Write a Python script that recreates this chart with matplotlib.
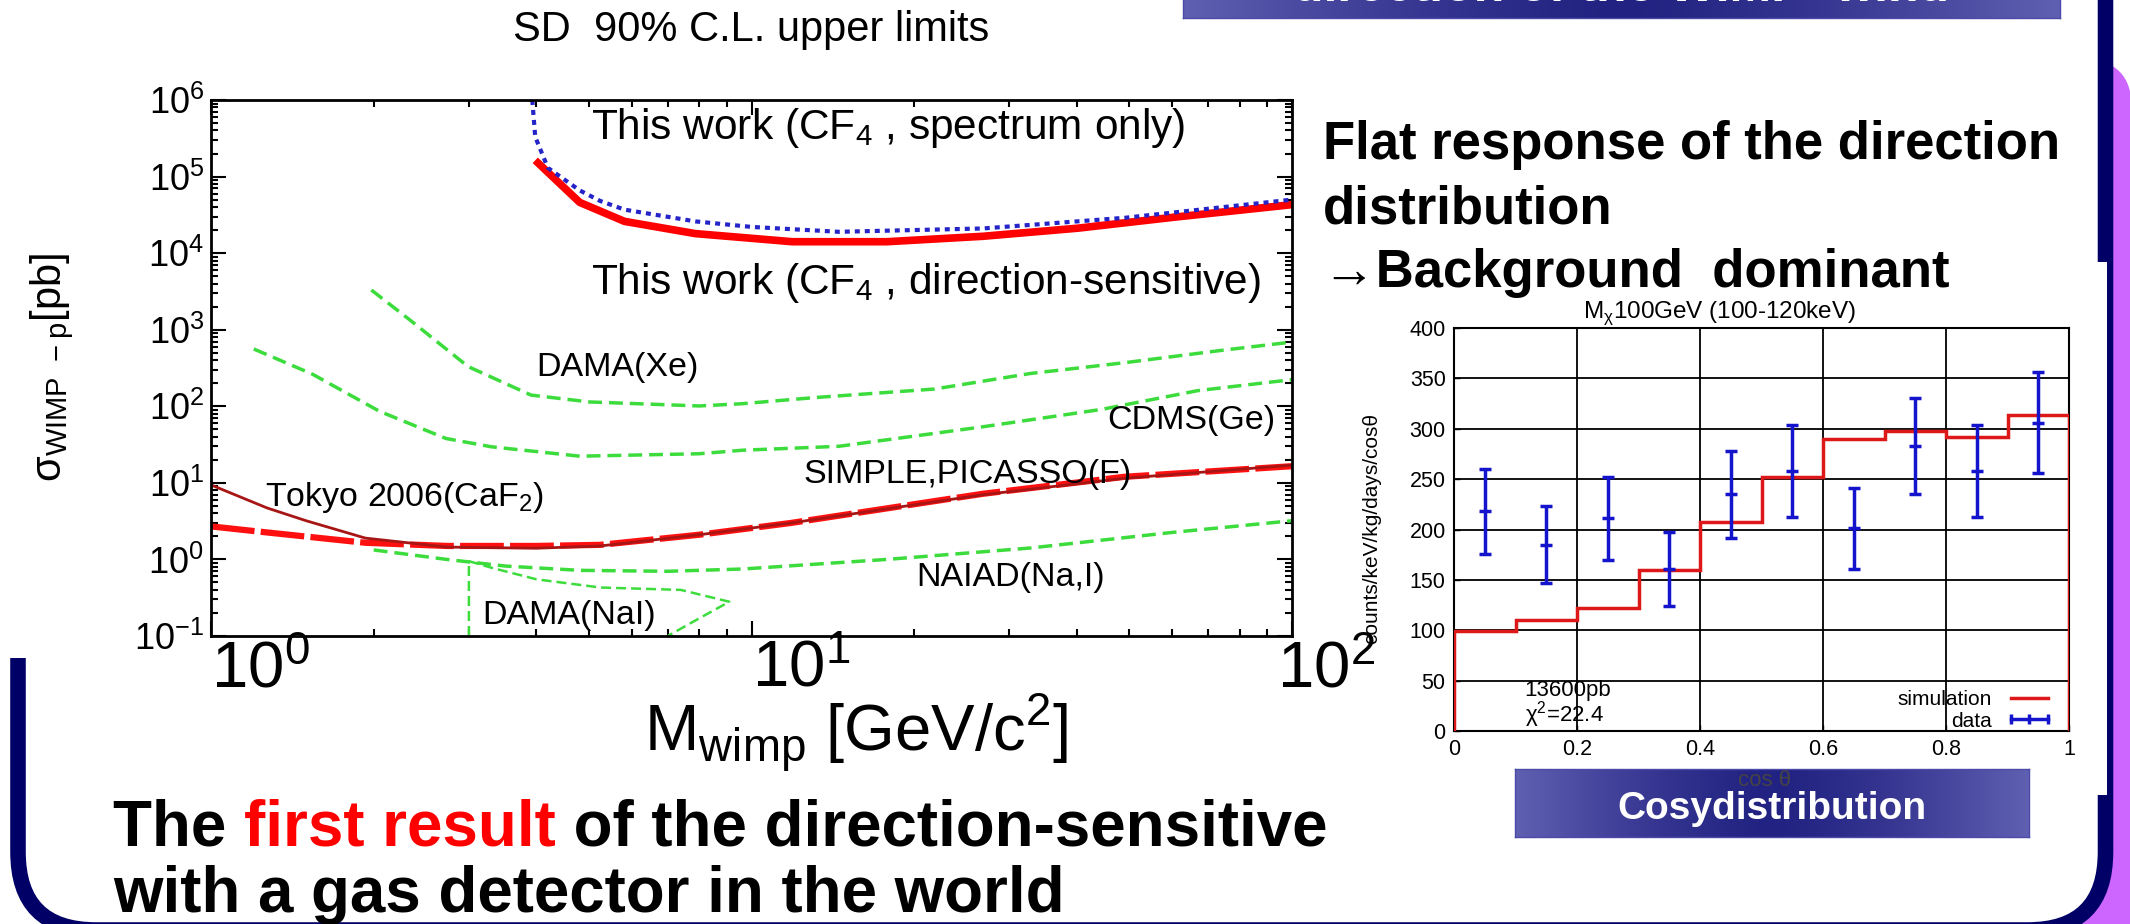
import numpy as np
import matplotlib
matplotlib.use("Agg")
import matplotlib.pyplot as plt
from matplotlib.patches import FancyBboxPatch, Rectangle
from matplotlib.lines import Line2D
from matplotlib.ticker import LogLocator, NullFormatter
from matplotlib.transforms import ScaledTranslation

plt.rcParams["font.family"] = ["Liberation Sans", "DejaVu Sans"]

W, H = 2130, 924

# ---- left plot: SD 90% C.L. upper limits (mass GeV, cross section pb) ----
spec_m = [3.93, 3.98, 4.2, 4.81, 5.25, 5.82, 7.87, 10.0, 14.5, 26.8, 49.2, 100]
spec_s = [1e6, 3.3e5, 1.3e5, 6.6e4, 4.8e4, 3.7e4, 2.6e4, 2.2e4, 1.9e4, 2.1e4, 2.9e4, 5.0e4]

dir_m = [3.98, 4.81, 5.82, 7.87, 11.9, 17.8, 26.8, 40.2, 60.3, 100]
dir_s = [1.63e5, 4.6e4, 2.6e4, 1.8e4, 1.41e4, 1.41e4, 1.66e4, 2.12e4, 2.94e4, 4.3e4]

xe_m = [1.98, 2.34, 2.99, 3.91, 5.01, 8.0, 9.6, 13.1, 21.8, 32.8, 49.2, 74, 100]
xe_s = [3300, 1320, 330, 140, 114, 101, 108, 130, 168, 268, 372, 537, 690]

cdms_m = [1.20, 1.54, 2.05, 2.72, 3.30, 4.81, 8.0, 9.64, 14.5, 26.8, 44.4, 66.9, 100]
cdms_s = [560, 263, 86, 38, 29.6, 22.3, 24, 26.7, 30, 54, 91, 160, 223]

tokyo_m = [1.0, 1.27, 1.5, 1.93, 2.73, 4.0, 5.25, 8.0, 11.85, 26.8, 49.0, 100]
tokyo_s = [9.4, 4.7, 3.2, 1.9, 1.45, 1.4, 1.5, 2.1, 3.0, 7.0, 11.5, 17.0]

simple_m = [1.0, 1.27, 1.93, 2.73, 4.0, 5.25, 8.0, 11.85, 26.8, 49.0, 100]
simple_s = [2.7, 2.25, 1.65, 1.5, 1.5, 1.55, 2.1, 3.0, 7.2, 12.0, 16.5]

naiad_m = [2.0, 2.73, 3.5, 4.81, 7.0, 9.64, 17.8, 32.8, 60.3, 100]
naiad_s = [1.33, 1.0, 0.82, 0.72, 0.70, 0.75, 1.0, 1.41, 2.26, 3.2]

damanai_m = [3.0, 3.0, 3.3, 4.0, 5.25, 7.4, 9.1, 8.0, 7.0]
damanai_s = [0.1, 0.95, 0.78, 0.55, 0.43, 0.40, 0.28, 0.17, 0.1]

y_ticks = [1e-1, 1e0, 1e1, 1e2, 1e3, 1e4, 1e5, 1e6]
y_tick_labels = [r"$\mathregular{10^{-1}}$", r"$\mathregular{10^{0}}$", r"$\mathregular{10^{1}}$",
                 r"$\mathregular{10^{2}}$", r"$\mathregular{10^{3}}$", r"$\mathregular{10^{4}}$",
                 r"$\mathregular{10^{5}}$", r"$\mathregular{10^{6}}$"]
x_ticks = [1, 10, 100]
x_tick_labels = [r"$\mathregular{10^{0}}$", r"$\mathregular{10^{1}}$", r"$\mathregular{10^{2}}$"]

# ---- right inset: cos distribution ----
bin_edges = [0.0, 0.1, 0.2, 0.3, 0.4, 0.5, 0.6, 0.7, 0.8, 0.9, 1.0]
sim_counts = [99, 110, 122, 160, 207, 252, 290, 298, 292, 314]
data_cos = [0.05, 0.15, 0.25, 0.35, 0.45, 0.55, 0.65, 0.75, 0.85, 0.95]
data_counts = [218, 185, 211, 161, 235, 258, 201, 283, 258, 306]
data_err = [42, 38, 41, 37, 43, 46, 40, 48, 46, 50]


def px(x, y):
    return x / W, 1 - y / H


fig = plt.figure(figsize=(W / 100, H / 100), dpi=100)
fig.patch.set_facecolor("white")
inch = fig.dpi_scale_trans

# slide frame: purple shadow, navy rounded border, white image backgrounds
shadow = FancyBboxPatch((19.0, -1.0), 2.32, (924 - 59) / 100 + 1.0, transform=inch,
                        boxstyle="round,pad=0,rounding_size=0.5",
                        facecolor="#cc66ff", edgecolor="none", zorder=-6)
fig.add_artist(shadow)
frame = FancyBboxPatch((0.18, -0.06), 21.055 - 0.18, 13.0, transform=inch,
                       boxstyle="round,pad=0,rounding_size=0.78",
                       facecolor="white", edgecolor="#000066", lw=11.2, zorder=-5)
fig.add_artist(frame)
fig.add_artist(Rectangle((0, (924 - 658) / 100), 13.45, 6.58, transform=inch,
                         facecolor="white", edgecolor="none", zorder=-4))
fig.add_artist(Rectangle((13.6, (924 - 795) / 100), 7.47, 5.33, transform=inch,
                         facecolor="white", edgecolor="none", zorder=-4))


def grad_box(x0, y0, x1, y1):
    bax = fig.add_axes([x0 / W, 1 - y1 / H, (x1 - x0) / W, (y1 - y0) / H])
    t = np.linspace(0, 1, 300)
    w = 1 - np.abs(2 * t - 1) ** 1.4
    edge = np.array([0x60, 0x60, 0xb2]) / 255
    mid = np.array([0x22, 0x22, 0x82]) / 255
    img = edge[None, :] + (mid - edge)[None, :] * w[:, None]
    bax.imshow(img[None, :, :], aspect="auto", extent=[0, 1, 0, 1])
    bax.set_xticks([])
    bax.set_yticks([])
    for s in bax.spines.values():
        s.set_color("#4a4aa8")
        s.set_linewidth(1)
    return bax


# ---- main limit plot ----
ax = fig.add_axes([211 / W, 1 - 636 / H, (1292 - 211) / W, (636 - 100) / H])
ax.set_xscale("log")
ax.set_yscale("log")
ax.set_xlim(1, 100)
ax.set_ylim(0.1, 1e6)

green = "#3ddc3d"
ax.plot(xe_m, xe_s, color=green, lw=2.5, dashes=(4, 2))
ax.plot(cdms_m, cdms_s, color=green, lw=2.5, dashes=(4, 2))
ax.plot(naiad_m, naiad_s, color=green, lw=2.5, dashes=(4, 2))
ax.plot(damanai_m, damanai_s, color=green, lw=1.8, dashes=(4, 2))
ax.plot(simple_m, simple_s, color="#ff1010", lw=4.5, dashes=(7, 1))
ax.plot(tokyo_m, tokyo_s, color="#a81515", lw=2)
ax.plot(dir_m, dir_s, color="#ff0000", lw=5.5, solid_capstyle="butt")
ax.plot(spec_m, spec_s, color="#2424c8", lw=3, dashes=(1.2, 1.2))

ax.set_yticks(y_ticks)
ax.set_yticklabels(y_tick_labels, fontsize=26)
ax.set_xticks(x_ticks)
ax.set_xticklabels(x_tick_labels, fontsize=47, ha="left")
ax.yaxis.set_minor_locator(LogLocator(base=10, subs=np.arange(2, 10), numticks=30))
ax.xaxis.set_minor_locator(LogLocator(base=10, subs=np.arange(2, 10), numticks=30))
ax.yaxis.set_minor_formatter(NullFormatter())
ax.xaxis.set_minor_formatter(NullFormatter())
ax.tick_params(which="both", direction="in", top=True, right=True, width=1.5)
ax.tick_params(which="major", length=11)
ax.tick_params(which="minor", length=5)
ax.tick_params(axis="y", pad=5)
ax.tick_params(axis="x", pad=3)
for s in ax.spines.values():
    s.set_linewidth(2)
# the last big label sits a little left of its tick in the slide
last = ax.xaxis.get_major_ticks()[2].label1
last.set_transform(last.get_transform() + ScaledTranslation(-0.15, 0, inch))

lab = dict(fontsize=24.5, va="baseline", ha="left")
fig.text(*px(591, 139), r"This work (CF$_\mathregular{4}$ , spectrum only)", fontsize=30.5, va="baseline")
fig.text(*px(591, 294), r"This work (CF$_\mathregular{4}$ , direction-sensitive)", fontsize=30.5, va="baseline")
fig.text(*px(536, 376), "DAMA(Xe)", **lab)
fig.text(*px(1107, 429), "CDMS(Ge)", **lab)
fig.text(*px(803, 483), "SIMPLE,PICASSO(F)", **lab)
fig.text(*px(265, 506), r"Tokyo 2006(CaF$_\mathregular{2}$)", **lab)
fig.text(*px(916, 586), "NAIAD(Na,I)", **lab)
fig.text(*px(482, 624), "DAMA(NaI)", **lab)

fig.text(*px(751, 30), "SD  90% C.L. upper limits", fontsize=30, ha="center", va="center")
fig.text(*px(52, 367), r"σ$_\mathregular{WIMP\ -p}$[pb]", fontsize=30, rotation=90,
         ha="center", va="center")
fig.text(*px(856, 733), r"M$_\mathregular{wimp}$ [GeV/c$^\mathregular{2}$]", fontsize=47,
         ha="center", va="center")

# ---- inset cos distribution ----
ax2 = fig.add_axes([1454 / W, 1 - 731 / H, 615 / W, 403 / H])
ax2.set_xlim(0, 1)
ax2.set_ylim(0, 400)
ax2.set_xticks([0, 0.2, 0.4, 0.6, 0.8, 1.0])
ax2.set_xticklabels(["0", "0.2", "0.4", "0.6", "0.8", "1"], fontsize=15.5)
ax2.set_yticks(np.arange(0, 401, 50))
ax2.set_yticklabels([str(v) for v in range(0, 401, 50)], fontsize=15.5)
ax2.tick_params(direction="in", length=4, width=1, pad=6)
ax2.grid(True, color="black", lw=1.3)
ax2.set_axisbelow(True)
for s in ax2.spines.values():
    s.set_linewidth(1.5)

ax2.stairs(sim_counts, bin_edges, baseline=0, color="#dd1818", lw=2.5, zorder=3)
ax2.errorbar(data_cos, data_counts, yerr=data_err, fmt="none", ecolor="#1414cc",
             elinewidth=2.5, capsize=4, capthick=2.5, zorder=4)
ax2.plot(data_cos, data_counts, ls="none", marker="_", ms=9, mew=2.5, color="#1414cc", zorder=4)

ax2.text(0.115, 0.10, "13600pb", transform=ax2.transAxes, fontsize=16, va="center")
ax2.text(0.115, 0.04, r"$\mathregular{\chi^{2}}$=22.4", transform=ax2.transAxes, fontsize=16, va="center")

handles = [Line2D([], [], color="#dd1818", lw=2.5),
           Line2D([], [], color="#1414cc", lw=2.5, marker="|", ms=7, mew=2.5)]
ax2.legend(handles, ["simulation", "data"], loc="lower right", bbox_to_anchor=(1.0, -0.035),
           frameon=False, markerfirst=False, fontsize=15, handlelength=2.4, numpoints=3,
           labelspacing=0.1, borderaxespad=0.3, handletextpad=0.6)

fig.text(*px(1720, 313), r"M$_\mathregular{χ}$100GeV (100-120keV)", fontsize=17.5,
         ha="center", va="center")
fig.text(*px(1372, 529), "counts/keV/kg/days/cosθ", fontsize=15, rotation=90,
         ha="center", va="center")

# ---- slide boxes and text ----
grad_box(1183, -2, 2060, 18)
fig.text(*px(1621, 1), "direction of the WIMP- wind", fontsize=36, fontweight="bold",
         color="white", ha="center", va="baseline", zorder=6)
grad_box(1515, 769, 2029, 837)
fig.text(*px(1772, 809), "Cosydistribution", fontsize=28, fontweight="bold",
         color="white", ha="center", va="center", zorder=6)
fig.text(*px(1765, 781), "cos θ", fontsize=16, color="#444444", ha="center", va="center", zorder=7)

side = dict(fontsize=38, fontweight="bold", va="baseline", ha="left")
fig.text(*px(1323, 159), "Flat response of the direction", **side)
fig.text(*px(1323, 223), "distribution", **side)
fig.text(*px(1323, 287), "→Background  dominant", **side)

renderer = fig.canvas.get_renderer()


def colored_line(x, y, parts, size):
    for s, c in parts:
        t = fig.text(*px(x, y), s, color=c, fontsize=size, fontweight="bold",
                     va="baseline", ha="left")
        x += t.get_window_extent(renderer=renderer).width


colored_line(113, 845, [("The ", "black"), ("first result", "#ff0000"),
                        (" of the direction-sensitive", "black")], 45.8)
colored_line(113, 912, [("with a gas detector in the world", "black")], 45.8)

fig.savefig("out.png", dpi=100)
